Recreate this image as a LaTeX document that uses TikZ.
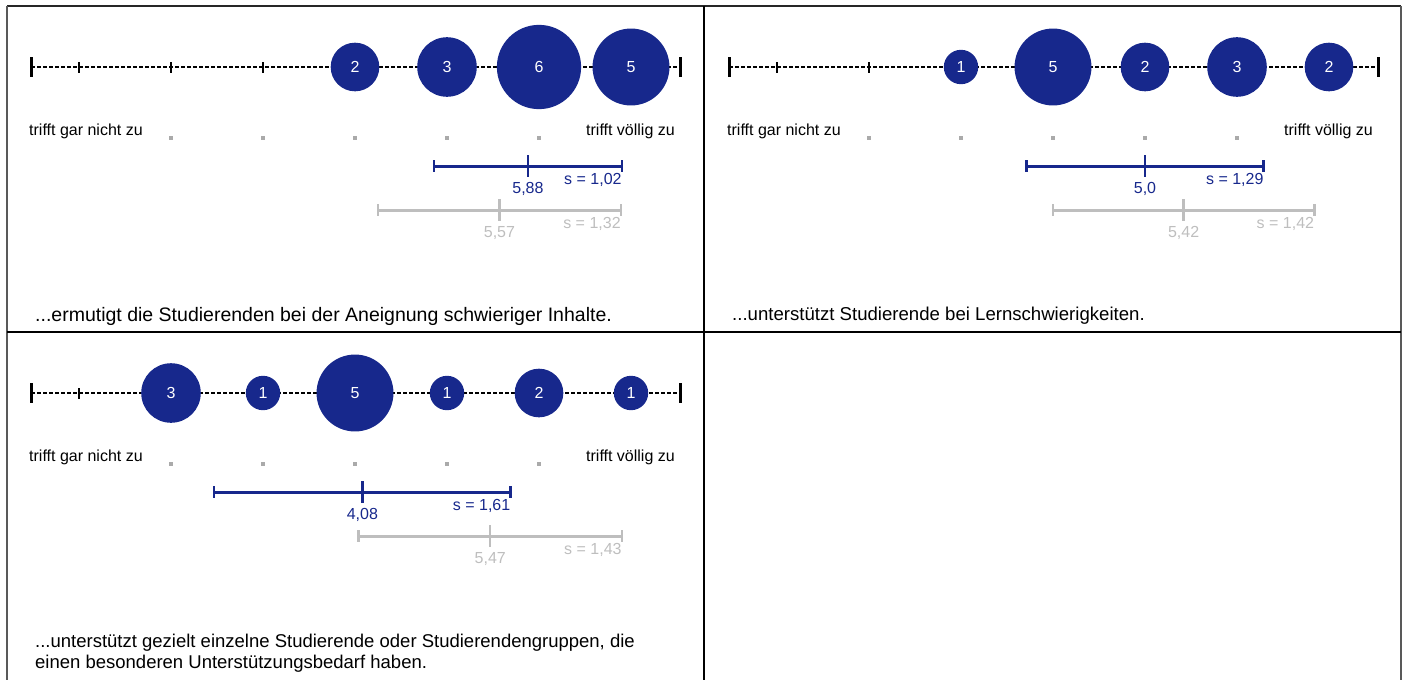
\documentclass[tikz,border=0pt]{standalone}
\usepackage{fontspec}
\setmainfont{Liberation Sans}
\usetikzlibrary{calc}
\definecolor{umfrageblau}{RGB}{23,40,140}
\definecolor{vergleichgrau}{RGB}{190,190,190}
\definecolor{punktgrau}{RGB}{170,170,170}
\tikzset{
	achse/.style={line width=2pt, dash pattern=on 4pt off 2pt},
	endstrich/.style={line width=3pt},
	teilstrich/.style={line width=2pt},
	kreis/.style={circle, fill=umfrageblau, text=white, inner sep=0pt, font=\fontsize{16}{19}\selectfont},
	schrift/.style={inner sep=0pt, font=\fontsize{16}{19}\selectfont},
}
% Skala mit Endpunkten und Beschriftung, #1 = Praefix der Namen
\newcommand\skala[1]{%
	\draw[achse] (31,67) -- (680,67);
	\draw[endstrich] (31,57) -- (31,77);
	\draw[endstrich] (680,57) -- (680,77);
	\foreach \p in {1,...,7} \draw[teilstrich] ({79+92*(\p-1)},62) -- ++(0,11);
	\foreach \p in {2,...,6} \fill[punktgrau] ({79+92*(\p-1)-2},136) rectangle ++(4,4);
	\node[schrift, anchor=west] (#1-links) at (29,131) {trifft gar nicht zu};
	\node[schrift, anchor=east] (#1-rechts) at (675,131) {trifft völlig zu};
}
% Mittelwert und Streuung: #1 Farbe, #2 y, #3 Mittelwert, #4 s, #5 Text Mittelwert, #6 Text s, #7 Name
\newcommand\streuung[7]{%
	\draw[line width=3pt, #1] ({79+92*(#3-#4-1)},#2) -- ({79+92*(#3+#4-1)},#2);
	\draw[line width=2.5pt, #1] ({79+92*(#3-#4-1)},#2-6) -- ++(0,12);
	\draw[line width=2.5pt, #1] ({79+92*(#3+#4-1)},#2-6) -- ++(0,12);
	\draw[line width=2.5pt, #1] ({79+92*(#3-1)},#2-11) -- ++(0,22);
	\node[schrift, text=#1] (#7-m) at ({79+92*(#3-1)},#2+23) {#5};
	\node[schrift, text=#1, anchor=east] (#7-s) at ({79+92*(#3+#4-1)},#2+14) {#6};
}

\begin{document}
\begin{tikzpicture}[x=1pt, y=-1pt]
	%%%%% START %%%%%
	\useasboundingbox (0,0) rectangle (1406,680);
	
	% Raster
	\draw[line width=1.5pt, black!85] (7,6) -- (1401,6);
	\draw[line width=2pt, black!65] (7,6) -- (7,681);
	\draw[line width=2pt, black!65] (1401,6) -- (1401,681);
	\draw[line width=1.8pt] (704,6) -- (704,681);
	\draw[line width=1.8pt] (7,332) -- (1401,332);
	
	% Feld 1
	\begin{scope}
		\skala{a}
		\foreach \p/\n in {4/2,5/3,6/6,7/5}
			\node[kreis, minimum size={34.4*sqrt(\n)}] (a-k\p) at ({79+92*(\p-1)},67) {\n};
		\streuung{umfrageblau}{166}{5.88}{1.02}{5,88}{s = 1,02}{a-blau}
		\streuung{vergleichgrau}{210}{5.57}{1.32}{5,57}{s = 1,32}{a-grau}
		\node[schrift, anchor=west, font=\fontsize{19.5}{22}\selectfont] (a-text) at (35,316) {...ermutigt die Studierenden bei der Aneignung schwieriger Inhalte.};
	\end{scope}
	
	% Feld 2
	\begin{scope}[shift={(698,0)}]
		\skala{b}
		\foreach \p/\n in {3/1,4/5,5/2,6/3,7/2}
			\node[kreis, minimum size={34.4*sqrt(\n)}] (b-k\p) at ({79+92*(\p-1)},67) {\n};
		\streuung{umfrageblau}{166}{5.0}{1.29}{5,0}{s = 1,29}{b-blau}
		\streuung{vergleichgrau}{210}{5.42}{1.42}{5,42}{s = 1,42}{b-grau}
		\node[schrift, anchor=west, font=\fontsize{18.6}{22}\selectfont] (b-text) at (34,316) {...unterstützt Studierende bei Lernschwierigkeiten.};
	\end{scope}
	
	% Feld 3
	\begin{scope}[shift={(0,326)}]
		\skala{c}
		\foreach \p/\n in {2/3,3/1,4/5,5/1,6/2,7/1}
			\node[kreis, minimum size={34.4*sqrt(\n)}] (c-k\p) at ({79+92*(\p-1)},67) {\n};
		\streuung{umfrageblau}{166}{4.08}{1.61}{4,08}{s = 1,61}{c-blau}
		\streuung{vergleichgrau}{210}{5.47}{1.43}{5,47}{s = 1,43}{c-grau}
		\node[schrift, anchor=west, align=left, font=\fontsize{18.5}{21}\selectfont] (c-text) at (35,327) {...unterstützt gezielt einzelne Studierende oder Studierendengruppen, die\\einen besonderen Unterstützungsbedarf haben.};
	\end{scope}
	
	%%%%% END %%%%%
\end{tikzpicture}
\end{document}
